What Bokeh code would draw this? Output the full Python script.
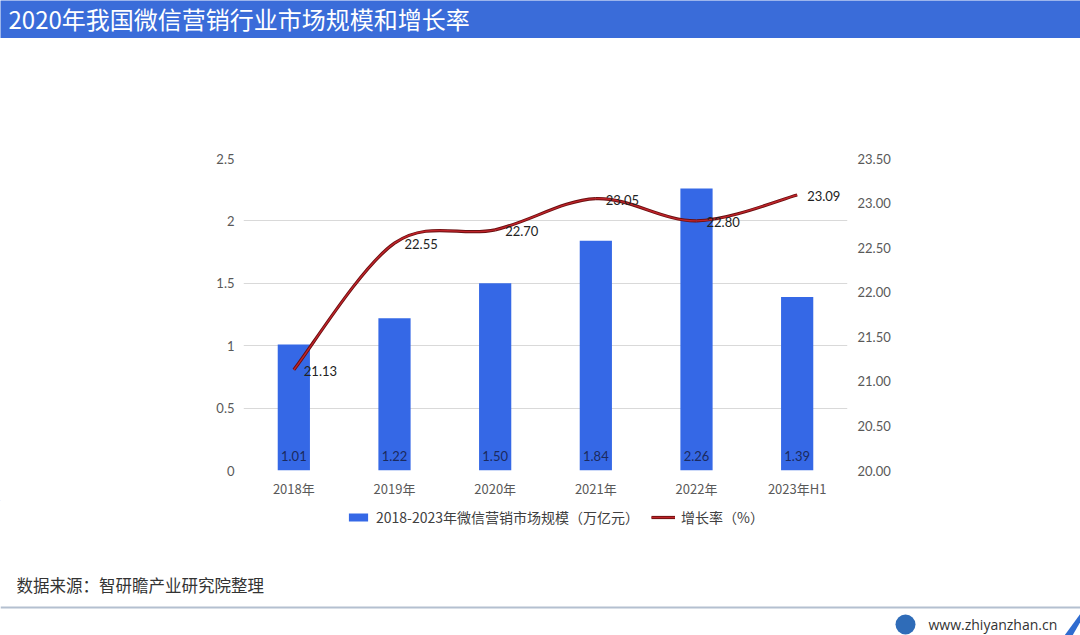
from bokeh.plotting import figure
from bokeh.models import (Range1d, LinearAxis, FixedTicker, NumeralTickFormatter,
                          Legend, LegendItem, ColumnDataSource, Label, Span)
from bokeh.embed import file_html
from bokeh.resources import INLINE
from bokeh.core.properties import value

# ---------------- data ----------------
categories = ["2018年", "2019年", "2020年", "2021年", "2022年", "2023年H1"]
market_size = [1.01, 1.22, 1.50, 1.84, 2.26, 1.39]          # 万亿元
growth_rate = [21.13, 22.55, 22.70, 23.05, 22.80, 23.09]     # %
left_ticks = [0, 0.5, 1, 1.5, 2, 2.5]
left_tick_labels = ["0", "0.5", "1", "1.5", "2", "2.5"]
right_ticks = [20.0, 20.5, 21.0, 21.5, 22.0, 22.5, 23.0, 23.5]

title_text = "2020年我国微信营销行业市场规模和增长率"
bar_series_name = "2018-2023年微信营销市场规模（万亿元）"
line_series_name = "增长率（%）"
source_text = "数据来源：智研瞻产业研究院整理"
site_text = "www.zhiyanzhan.cn"

# ---------------- style ----------------
W = 1080
TITLE_H = 38
MAIN_H = 462
FOOT_H = 135
CJK = "Noto Sans CJK SC"
NUM = "Lato"
BLUE_BAR = "#3568e6"
TITLE_BG = "#3a6cd9"
AXIS_TXT = "#595959"
LINE_DARK = "#6a0f10"
LINE_RED = "#c0242a"

# ---------------- title bar ----------------
t = figure(width=W, height=TITLE_H, x_range=Range1d(0, W), y_range=Range1d(TITLE_H, 0),
           output_backend="svg", toolbar_location=None, min_border=0,
           background_fill_color=TITLE_BG, border_fill_color=TITLE_BG, outline_line_color=None)
t.axis.visible = False
t.grid.visible = False
t.add_layout(Label(x=8, y=18, text=title_text, text_color="white",
                   text_font=CJK, text_font_size="24px", text_baseline="middle"))

# ---------------- main chart ----------------
n = len(categories)
xs = list(range(n))

p = figure(width=W, height=MAIN_H, x_range=Range1d(-0.5, n - 0.5),
           y_range=Range1d(left_ticks[0], left_ticks[-1]),
           output_backend="svg", toolbar_location=None,
           min_border_left=243, min_border_right=233, min_border_top=120, min_border_bottom=30,
           outline_line_color=None, background_fill_color="white", border_fill_color="white")
p.extra_y_ranges = {"pct": Range1d(right_ticks[0], right_ticks[-1])}

# x axis
p.xaxis.ticker = FixedTicker(ticks=xs)
p.xaxis.major_label_overrides = {i: c for i, c in zip(xs, categories)}
p.xaxis.axis_line_color = None
p.xaxis.major_tick_line_color = None
p.xaxis.major_tick_out = 0
p.xaxis.minor_tick_line_color = None
p.xaxis.major_label_standoff = 8
p.xaxis.major_label_text_font = CJK
p.xaxis.major_label_text_font_size = "13px"
p.xaxis.major_label_text_color = AXIS_TXT

# left axis
p.yaxis.ticker = FixedTicker(ticks=left_ticks)
p.yaxis.major_label_overrides = {tk: lb for tk, lb in zip(left_ticks, left_tick_labels)}
p.yaxis.axis_line_color = None
p.yaxis.major_tick_line_color = None
p.yaxis.major_tick_out = 0
p.yaxis.minor_tick_line_color = None
p.yaxis.major_label_standoff = 9
p.yaxis.major_label_text_font = NUM
p.yaxis.major_label_text_font_size = "13px"
p.yaxis.major_label_text_color = AXIS_TXT

# right axis
ra = LinearAxis(y_range_name="pct", ticker=FixedTicker(ticks=right_ticks),
                formatter=NumeralTickFormatter(format="0.00"))
ra.axis_line_color = None
ra.major_tick_line_color = None
ra.major_tick_out = 0
ra.minor_tick_line_color = None
ra.major_label_standoff = 10
ra.major_label_text_font = NUM
ra.major_label_text_font_size = "13px"
ra.major_label_text_color = AXIS_TXT
p.add_layout(ra, "right")

p.xgrid.visible = False
p.ygrid.ticker = FixedTicker(ticks=left_ticks)
p.ygrid.grid_line_color = "#d9d9d9"
p.ygrid.grid_line_width = 1

# bars
p.vbar(x=xs, top=market_size, width=0.32, fill_color=BLUE_BAR, line_color=None)
p.text(x=xs, y=[left_ticks[0]] * n, text=[f"{v:.2f}" for v in market_size],
       text_font=value(NUM), text_font_size="13px", text_color="#1b2a5e",
       text_align="center", text_baseline="bottom", y_offset=-10)

# smoothed line (Catmull-Rom -> cubic Bezier)
def pt(i):
    i = max(0, min(n - 1, i))
    return xs[i], growth_rate[i]

seg = dict(x0=[], y0=[], x1=[], y1=[], cx0=[], cy0=[], cx1=[], cy1=[])
for i in range(n - 1):
    xa, ya = pt(i)
    xb, yb = pt(i + 1)
    xm, ym = pt(i - 1)
    xp, yp = pt(i + 2)
    seg["x0"].append(xa); seg["y0"].append(ya)
    seg["x1"].append(xb); seg["y1"].append(yb)
    seg["cx0"].append(xa + (xb - xm) / 6); seg["cy0"].append(ya + (yb - ym) / 6)
    seg["cx1"].append(xb - (xp - xa) / 6); seg["cy1"].append(yb - (yp - ya) / 6)
seg_src = ColumnDataSource(seg)

p.bezier(x0="x0", y0="y0", x1="x1", y1="y1", cx0="cx0", cy0="cy0",
         cx1="cx1", cy1="cy1", source=seg_src, y_range_name="pct",
         line_color=LINE_DARK, line_width=3.2)
p.bezier(x0="x0", y0="y0", x1="x1", y1="y1", cx0="cx0", cy0="cy0",
         cx1="cx1", cy1="cy1", source=seg_src, y_range_name="pct",
         line_color=LINE_RED, line_width=1.4)

p.text(x=xs, y=growth_rate, text=[f"{v:.2f}" for v in growth_rate], y_range_name="pct",
       text_font=value(NUM), text_font_size="13px", text_color="#222222",
       text_align="left", text_baseline="middle", x_offset=10, y_offset=1)

# ---------------- footer (legend + source) ----------------
f = figure(width=W, height=FOOT_H, x_range=Range1d(0, W), y_range=Range1d(FOOT_H, 0),
           output_backend="svg", toolbar_location=None, min_border=0,
           outline_line_color=None, background_fill_color="white", border_fill_color="white")
f.axis.visible = False
f.grid.visible = False

# legend proxies: one point each, placed off-canvas so only the legend swatch shows
off = -1000
leg_bar = f.vbar(x=[off], top=[off], bottom=[off - 1], width=1, fill_color=BLUE_BAR, line_color=None)
leg_l1 = f.line(x=[off, off - 1], y=[off, off], line_color=LINE_DARK, line_width=3.2)
leg_l2 = f.line(x=[off, off - 1], y=[off, off], line_color=LINE_RED, line_width=1.4)
legend = Legend(items=[LegendItem(label=bar_series_name, renderers=[leg_bar]),
                       LegendItem(label=line_series_name, renderers=[leg_l1, leg_l2])],
                orientation="horizontal", location=(346, FOOT_H - 27),
                border_line_color=None, background_fill_alpha=0,
                padding=0, margin=0, spacing=12, label_standoff=6,
                glyph_width=24, glyph_height=10, label_height=18,
                label_text_font=CJK, label_text_font_size="14px", label_text_color="#404040")
f.add_layout(legend, "center")

f.add_layout(Label(x=16, y=84, text=source_text, text_color="#333333",
                   text_font=CJK, text_font_size="16.5px", text_baseline="middle"))
f.add_layout(Span(location=107, dimension="width", line_color="#b4c0d0", line_width=2))
f.circle(x=[905], y=[124], radius=10, fill_color="#2f6cb8", line_color=None)
f.add_layout(Label(x=928, y=124, text=site_text, text_color="#333333",
                   text_font="Open Sans", text_font_size="14px", text_baseline="middle"))
f.patch(x=[1064, 1080, 1080, 1072], y=[135, 113, 121, 135], fill_color="#2f6cd0", line_color=None)

open("out.html", "w").write(file_html([t, p, f], INLINE))
